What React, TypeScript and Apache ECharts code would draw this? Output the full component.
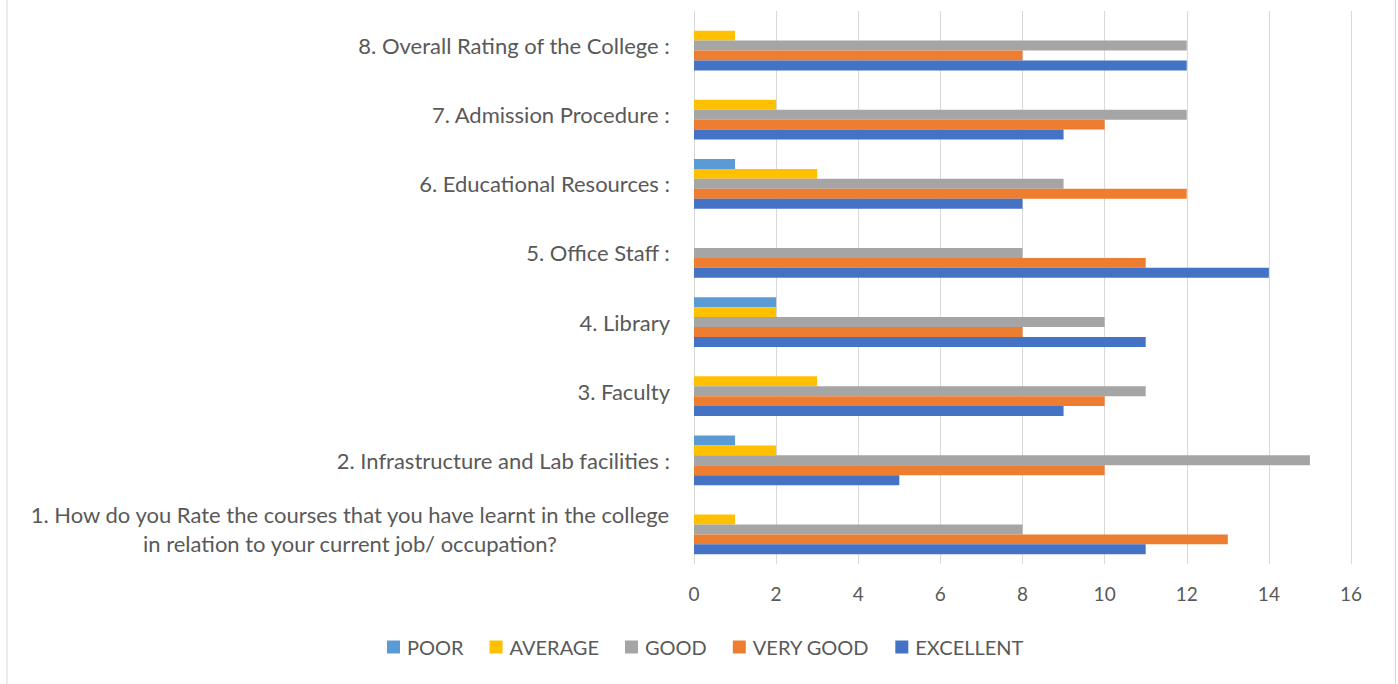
import React, { useEffect, useRef } from "react";
import * as echarts from "echarts";

const categories = [
  "1. How do you Rate the courses that you have learnt in the college\nin relation to your current job/ occupation?",
  "2. Infrastructure and Lab facilities :",
  "3. Faculty",
  "4. Library",
  "5. Office Staff :",
  "6. Educational Resources :",
  "7. Admission Procedure :",
  "8. Overall Rating of the College :",
];

const poor = [0, 1, 0, 2, 0, 1, 0, 0];
const average = [1, 2, 3, 2, 0, 3, 2, 1];
const good = [8, 15, 11, 10, 8, 9, 12, 12];
const veryGood = [13, 10, 10, 8, 11, 12, 10, 8];
const excellent = [11, 5, 9, 11, 14, 8, 9, 12];

const seriesNames = ["POOR", "AVERAGE", "GOOD", "VERY GOOD", "EXCELLENT"];
const seriesColors = ["#5B9BD5", "#FFC000", "#A5A5A5", "#ED7D31", "#4472C4"];
const seriesValues = [poor, average, good, veryGood, excellent];

const FONT = "Lato";

export default function App() {
  const ref = useRef<HTMLDivElement>(null);
  useEffect(() => {
    if (!ref.current) return;
    const chart = echarts.init(ref.current, undefined, { renderer: "svg" });
    chart.setOption({
      animation: false,
      backgroundColor: "#ffffff",
      textStyle: { fontFamily: FONT },
      graphic: [
        { type: "line", shape: { x1: 7, y1: 0, x2: 7, y2: 684 }, style: { stroke: "#d9d9d9", lineWidth: 1 } },
        { type: "line", shape: { x1: 1395.5, y1: 0, x2: 1395.5, y2: 684 }, style: { stroke: "#d9d9d9", lineWidth: 1 } },
      ],
      legend: {
        data: seriesNames,
        top: 632,
        left: 382,
        itemWidth: 13,
        itemHeight: 13,
        itemGap: 26,
        icon: "rect",
        textStyle: { fontFamily: FONT, fontSize: 20, color: "#595959", padding: [0, 0, 0, 2] },
      },
      grid: { left: 694, right: 47, top: 11, bottom: 120, containLabel: false },
      xAxis: {
        type: "value",
        min: 0,
        max: 16,
        interval: 2,
        axisLine: { show: false },
        axisTick: { show: false },
        axisLabel: { fontFamily: FONT, fontSize: 19, color: "#595959", margin: 20 },
        splitLine: { show: true, lineStyle: { color: "#d9d9d9", width: 1 } },
      },
      yAxis: {
        type: "category",
        data: categories,
        axisLine: { show: true, lineStyle: { color: "#d9d9d9", width: 1 } },
        axisTick: { show: false },
        axisLabel: {
          margin: 24,
          formatter: (v: string) => v.split("\n").map((l) => "{c|" + l + "}").join("\n"),
          rich: {
            c: { fontFamily: FONT, fontSize: 22, color: "#595959", align: "center", lineHeight: 29 },
          },
        },
      },
      series: seriesNames.map((name, i) => ({
        name,
        type: "bar",
        data: seriesValues[i],
        itemStyle: { color: seriesColors[i] },
        barGap: "0%",
        barCategoryGap: "28%",
      })),
    });
    return () => chart.dispose();
  }, []);
  return (
    <div
      ref={ref}
      style={{ position: "fixed", left: 0, top: 0, width: 1398, height: 684 }}
    />
  );
}
